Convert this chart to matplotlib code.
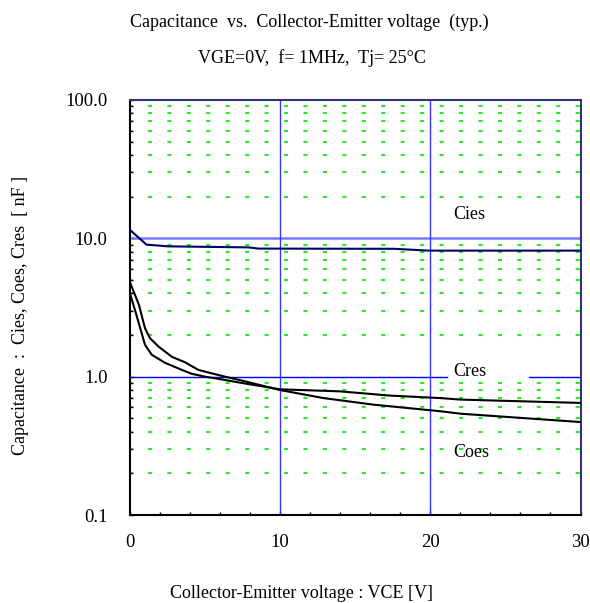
import matplotlib

matplotlib.use("Agg")

import matplotlib.pyplot as plt
from matplotlib.patches import Rectangle
from matplotlib.ticker import FixedLocator, LogLocator, NullFormatter, FuncFormatter

plt.rcParams["font.family"] = ["Liberation Serif", "DejaVu Serif"]
plt.rcParams["lines.scale_dashes"] = False

# values (VCE in V, capacitance in nF)
vce_cies = [0, 1.1, 2.55, 7.9, 8.55, 17.6, 19.9, 30]
cies = [11.5, 9.0, 8.75, 8.6, 8.43, 8.4, 8.15, 8.15]

vce_coes = [0, 0.6, 1.0, 1.33, 1.9, 2.8, 3.67, 4.55, 5.4, 6.33, 7.67,
            10, 12.9, 16.2, 20.7, 22, 30]
coes = [4.8, 3.3, 2.24, 1.9, 1.65, 1.39, 1.27, 1.12, 1.06, 1.0, 0.925,
        0.80, 0.70, 0.628, 0.562, 0.54, 0.47]

vce_cres = [0, 0.33, 1.0, 1.45, 2.33, 3.45, 4.1, 5.0, 6.0, 7.2,
            10, 14, 17.3, 20.7, 22, 30]
cres = [4.0, 3.04, 1.70, 1.44, 1.26, 1.12, 1.05, 1.0, 0.96, 0.91,
        0.81, 0.783, 0.73, 0.70, 0.683, 0.646]

x_ticks = [0, 10, 20, 30]
x_minor = [2, 4, 6, 8, 12, 14, 16, 18, 22, 24, 26, 28]
y_ticks = [0.1, 1.0, 10.0, 100.0]

fig = plt.figure(figsize=(5.9, 6.03), dpi=100)
ax = fig.add_axes([0.2203, 0.1459, 0.7636, 0.6883])
ax.set_yscale("log")
ax.set_xlim(0, 30)
ax.set_ylim(0.1, 100)

# green dashed minor grid
ax.yaxis.set_minor_locator(LogLocator(base=10, subs=range(2, 10)))
ax.yaxis.set_minor_formatter(NullFormatter())
ax.grid(which="minor", axis="y", color="#22ee22", linewidth=1.5,
        linestyle=(1.1, (2.9, 11.1)), zorder=1)

# major reference lines
ax.axhline(10, color="#7777ff", linewidth=1.8, zorder=2)
ax.axhline(1.0, xmax=0.703, color="#0000ee", linewidth=1.0, zorder=2)
ax.axhline(1.0, xmin=0.886, color="#0000ee", linewidth=1.0, zorder=2)
for xv in (10, 20):
    ax.axvline(xv, color="#3333ff", linewidth=1.0, zorder=2)

ax.plot(vce_cies, cies, color="#000066", linewidth=1.5, zorder=3)
ax.plot(vce_coes, coes, color="black", linewidth=1.5, zorder=3)
ax.plot(vce_cres, cres, color="black", linewidth=1.5, zorder=3)

# label boxes (white, hide the grid beneath)
ax.add_patch(Rectangle((21.0, 0.255), 6.2, 0.06, facecolor="white",
                       edgecolor="none", zorder=1.5))
ax.text(21.5, 14.8, "Cies", fontsize=13, ha="left", va="center", zorder=4)
ax.text(21.5, 1.09, "Cres", fontsize=13, ha="left", va="center", zorder=4)
ax.text(21.5, 0.282, "Coes", fontsize=13, ha="left", va="center", zorder=4)

# ticks
ax.xaxis.set_major_locator(FixedLocator(x_ticks))
ax.xaxis.set_minor_locator(FixedLocator(x_minor))
ax.yaxis.set_major_locator(FixedLocator(y_ticks))
ax.yaxis.set_major_formatter(FuncFormatter(lambda v, p: f"{v:.1f}"))
ax.tick_params(which="both", direction="in", color="black", width=1.0)
ax.tick_params(which="major", length=3)
ax.tick_params(which="minor", length=2.5)
ax.tick_params(axis="y", which="major", labelsize=13.5, pad=16)
ax.tick_params(axis="x", which="major", labelsize=13.5, pad=14)

for side in ("left", "bottom"):
    ax.spines[side].set_color("black")
    ax.spines[side].set_linewidth(1.5)
for side in ("top", "right"):
    ax.spines[side].set_color("#333377")
    ax.spines[side].set_linewidth(1.5)

ax.set_xlabel("Collector-Emitter voltage : VCE [V]", fontsize=13, va="center")
ax.xaxis.set_label_coords(0.38, -0.188)
ax.set_ylabel("Capacitance  :  Cies, Coes, Cres  [ nF ]", fontsize=13, va="center")
ax.yaxis.set_label_coords(-0.244, 0.48)

fig.text(0.524, 1 - 22 / 603, "Capacitance  vs.  Collector-Emitter voltage  (typ.)",
         fontsize=13, ha="center", va="center")
fig.text(0.528, 1 - 58 / 603, "VGE=0V,  f= 1MHz,  Tj= 25\u00b0C",
         fontsize=13, ha="center", va="center")

fig.savefig("out.png", dpi=100)
plt.close(fig)
